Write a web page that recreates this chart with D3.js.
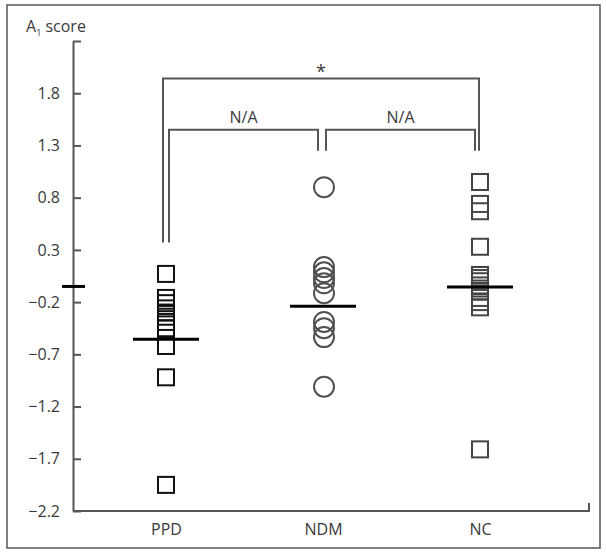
<!DOCTYPE html>
<html>
<head>
<meta charset="utf-8">
<script src="https://cdn.jsdelivr.net/npm/d3@7"></script>
<style>
  body { margin: 0; background: #fff; }
  text { font-family: "Open Sans", sans-serif; fill: #3a3a3a; }
</style>
</head>
<body>
<svg id="chart"></svg>
<script>
// groups and their values (A1 score)
const groups = ["PPD", "NDM", "NC"];
const ppdValues = [0.07, -0.16, -0.21, -0.26, -0.30, -0.34, -0.39, -0.45, -0.62, -0.92, -1.95];
const ndmValues = [0.90, 0.135, 0.085, 0.03, -0.02, -0.115, -0.39, -0.45, -0.535, -1.01];
const ncValues = [0.95, 0.74, 0.67, 0.33, 0.06, 0.03, 0.0, -0.04, -0.07, -0.10, -0.16, -0.20, -0.25, -1.61];
const groupMeans = [-0.555, -0.24, -0.055];
const overallMark = -0.05;
const yTicks = [-2.2, -1.7, -1.2, -0.7, -0.2, 0.3, 0.8, 1.3, 1.8, 2.3];
const yDomain = [-2.2, 2.3];

// comparison brackets: from, to, bracket level, leg end levels, label
const brackets = [
    { from: "PPD", to: "NC", level: 1.94, legs: [0.37, 1.25], label: "*" },
    { from: "PPD", to: "NDM", level: 1.45, legs: [0.37, 1.25], label: "N/A" },
    { from: "NDM", to: "NC", level: 1.45, legs: [1.25, 1.25], label: "N/A" }
];

const width = 606, height = 553;
const svg = d3.select("#chart").attr("width", width).attr("height", height);

const axisLeftX = 73, axisRightX = 589;

const x = d3.scalePoint().domain(groups).range([166, 480]);
const y = d3.scaleLinear().domain(yDomain).range([511, 41]);

// outer frame
svg.append("rect")
    .attr("x", 7).attr("y", 5)
    .attr("width", 593).attr("height", 543)
    .attr("fill", "none")
    .attr("stroke", "#555")
    .attr("stroke-width", 1.5);

// y axis
const yAxis = svg.append("g")
    .attr("transform", `translate(${axisLeftX},0)`)
    .call(d3.axisLeft(y)
        .tickValues(yTicks)
        .tickSizeInner(-8)
        .tickSizeOuter(0)
        .tickPadding(13)
        .tickFormat(d => d > 2 ? "" : d3.format(".1f")(d)));
yAxis.select(".domain").attr("stroke", "#555").attr("stroke-width", 2);
yAxis.selectAll(".tick line").attr("stroke", "#555").attr("stroke-width", 2);
yAxis.selectAll(".tick text")
    .style("font-family", "'Open Sans', sans-serif")
    .style("font-size", "16px")
    .attr("fill", "#444");

// y axis title
const title = svg.append("text")
    .attr("x", 26).attr("y", 32)
    .style("font-size", "16px");
title.append("tspan").text("A");
title.append("tspan").attr("dy", 4).style("font-size", "9px").text("1");
title.append("tspan").attr("dy", -4).text(" score");

// x axis
svg.append("path")
    .attr("d", `M${axisLeftX},${y(yDomain[0])}H${axisRightX}V${y(yDomain[0]) - 8}`)
    .attr("fill", "none")
    .attr("stroke", "#555")
    .attr("stroke-width", 2);

const xAxis = svg.append("g")
    .attr("transform", `translate(0,${y(yDomain[0])})`)
    .call(d3.axisBottom(x).tickSize(0).tickPadding(13));
xAxis.select(".domain").remove();
xAxis.selectAll(".tick text")
    .style("font-family", "'Open Sans', sans-serif")
    .style("font-size", "16px")
    .attr("fill", "#444");

// brackets
const bracketG = svg.append("g")
    .attr("fill", "none")
    .attr("stroke", "#555")
    .attr("stroke-width", 2);
brackets.forEach(b => {
    const inner = b.label !== "*";
    const x0 = x(b.from) + (inner ? 3 : -3);
    const x1 = x(b.to) + (inner ? -5 : -1);
    bracketG.append("path")
        .attr("d", `M${x0},${y(b.legs[0])}V${y(b.level)}H${x1}V${y(b.legs[1])}`);
    svg.append("text")
        .attr("x", (x0 + x1) / 2)
        .attr("y", y(b.level) - (inner ? 7 : 1))
        .attr("text-anchor", "middle")
        .style("font-size", inner ? "16px" : "18px")
        .text(b.label);
});

// markers
const squareSize = 16;
function drawSquares(group, values, color) {
    svg.append("g").selectAll("rect")
        .data(values)
        .join("rect")
        .attr("x", x(group) - squareSize / 2)
        .attr("y", d => y(d) - squareSize / 2)
        .attr("width", squareSize)
        .attr("height", squareSize)
        .attr("fill", "none")
        .attr("stroke", color)
        .attr("stroke-width", 2);
}
drawSquares("PPD", ppdValues, "#111");
drawSquares("NC", ncValues, "#444");

svg.append("g").selectAll("circle")
    .data(ndmValues)
    .join("circle")
    .attr("cx", x("NDM") + 1)
    .attr("cy", d => y(d))
    .attr("r", 10)
    .attr("fill", "none")
    .attr("stroke", "#505050")
    .attr("stroke-width", 2);

// mean lines
svg.append("g").selectAll("line")
    .data(groupMeans)
    .join("line")
    .attr("x1", (d, i) => x(groups[i]) - 33)
    .attr("x2", (d, i) => x(groups[i]) + 33)
    .attr("y1", d => y(d))
    .attr("y2", d => y(d))
    .attr("stroke", "#000")
    .attr("stroke-width", 3);

svg.append("line")
    .attr("x1", axisLeftX - 11).attr("x2", axisLeftX + 12)
    .attr("y1", y(overallMark)).attr("y2", y(overallMark))
    .attr("stroke", "#000")
    .attr("stroke-width", 3);
</script>
</body>
</html>
